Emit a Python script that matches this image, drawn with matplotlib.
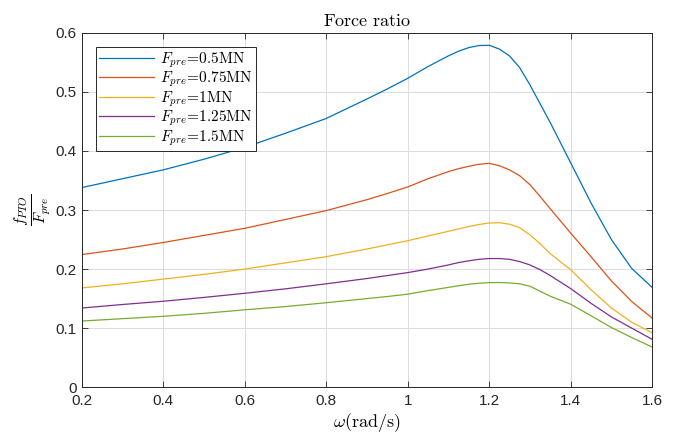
import numpy as np
import matplotlib.pyplot as plt

plt.rcParams['mathtext.fontset'] = 'cm'
plt.rcParams['font.family'] = ['Liberation Sans', 'DejaVu Sans']

# omega (rad/s)
w = [0.2, 0.3, 0.4, 0.5, 0.6, 0.7, 0.8, 0.9, 0.95, 1.0, 1.05, 1.1, 1.125, 1.15, 1.175,
     1.2, 1.225, 1.25, 1.275, 1.3, 1.325, 1.35, 1.4, 1.45, 1.5, 1.55, 1.6]

r_05 = [0.338, 0.353, 0.368, 0.386, 0.406, 0.430, 0.455, 0.488, 0.505, 0.523, 0.543, 0.561,
        0.569, 0.575, 0.5785, 0.579, 0.5726, 0.561, 0.541, 0.512, 0.480, 0.448,
        0.380, 0.312, 0.250, 0.201, 0.169]
r_075 = [0.2245, 0.234, 0.245, 0.257, 0.269, 0.284, 0.299, 0.3175, 0.328, 0.339, 0.353, 0.365,
         0.370, 0.374, 0.3775, 0.379, 0.375, 0.368, 0.358, 0.343, 0.323, 0.302,
         0.261, 0.221, 0.180, 0.145, 0.117]
r_1 = [0.168, 0.175, 0.183, 0.191, 0.200, 0.2105, 0.221, 0.234, 0.241, 0.248, 0.256, 0.264,
       0.268, 0.272, 0.2755, 0.278, 0.2785, 0.276, 0.270, 0.258, 0.243, 0.226,
       0.199, 0.165, 0.134, 0.110, 0.092]
r_125 = [0.134, 0.140, 0.1455, 0.152, 0.159, 0.1665, 0.175, 0.184, 0.189, 0.194, 0.200, 0.207,
         0.211, 0.214, 0.2165, 0.2178, 0.2178, 0.2165, 0.2127, 0.207, 0.199, 0.189,
         0.167, 0.142, 0.119, 0.100, 0.081]
r_15 = [0.112, 0.116, 0.120, 0.125, 0.131, 0.1365, 0.143, 0.150, 0.1535, 0.1575, 0.1635, 0.169,
        0.1717, 0.1743, 0.176, 0.177, 0.1772, 0.1765, 0.175, 0.171, 0.1625, 0.154,
        0.1405, 0.121, 0.101, 0.084, 0.068]

labels = ['0.5MN', '0.75MN', '1MN', '1.25MN', '1.5MN']
colors = ['#0072BD', '#D95319', '#EDB120', '#7E2F8E', '#77AC30']

fig = plt.figure(figsize=(6.93, 4.44), dpi=100)
ax = fig.add_axes([0.118, 0.128, 0.823, 0.798])

for y, lab, c in zip([r_05, r_075, r_1, r_125, r_15], labels, colors):
    ax.plot(w, y, color=c, lw=0.9, label=r'$F_{pre}\!=\!\mathrm{%s}$' % lab)

ax.set_xlim(0.2, 1.6)
ax.set_ylim(0, 0.6)
ax.set_xticks(np.arange(0.2, 1.61, 0.2))
ax.set_xticklabels(['0.2', '0.4', '0.6', '0.8', '1', '1.2', '1.4', '1.6'])
ax.set_yticks(np.arange(0, 0.61, 0.1))
ax.set_yticklabels(['0', '0.1', '0.2', '0.3', '0.4', '0.5', '0.6'])
ax.grid(True, color='#dcdcdc', lw=0.7)
ax.set_axisbelow(True)
ax.tick_params(direction='in', top=True, right=True, labelsize=11, colors='#262626',
               length=4, width=0.6)
ax.tick_params(axis='x', pad=5)
for s in ax.spines.values():
    s.set_color('#262626')
    s.set_linewidth(0.7)

ax.set_title(r'$\mathrm{Force\ ratio}$', fontsize=13, pad=5)
ax.set_xlabel(r'$\omega\mathrm{(rad/s)}$', fontsize=13, labelpad=2)
ax.set_ylabel(r'$\frac{f_{PTO}}{F_{pre}}$', fontsize=16, labelpad=2)

leg = ax.legend(loc='upper left', bbox_to_anchor=(0.025, 0.96), fontsize=11,
                fancybox=False, framealpha=1, edgecolor='#262626',
                borderpad=0.2, labelspacing=0.0, handlelength=3.6,
                handletextpad=0.4, borderaxespad=0)
leg.get_frame().set_linewidth(0.7)

fig.savefig('out.png', dpi=100)
